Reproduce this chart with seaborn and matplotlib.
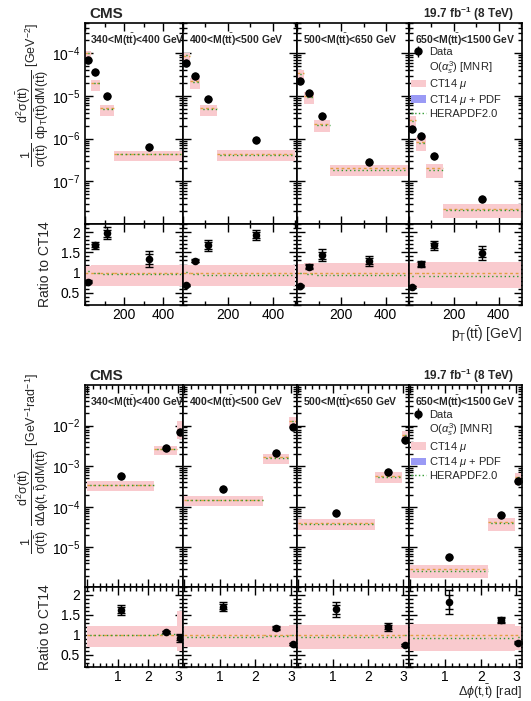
import numpy as np
import pandas as pd
import matplotlib
matplotlib.use("Agg")
import matplotlib.pyplot as plt
import seaborn as sns
from matplotlib.patches import Patch
from matplotlib.lines import Line2D
from matplotlib.ticker import MultipleLocator, LogLocator, NullFormatter, FixedLocator

# mass bins (one panel each)
mass_bins = [("340", "400"), ("400", "500"), ("500", "650"), ("650", "1500")]

# pT(tt) distribution
pt_edges = [0, 30, 75, 150, 500]
pt_data = [[7.0e-5, 3.7e-5, 1.0e-5, 6.4e-7],
           [6.0e-5, 2.9e-5, 8.7e-6, 9.1e-7],
           [2.2e-5, 1.15e-5, 3.4e-6, 2.8e-7],
           [1.7e-6, 1.15e-6, 3.9e-7, 3.9e-8]]
pt_ct14 = [[1.0e-4, 2.0e-5, 5.1e-6, 4.4e-7],
           [8.7e-5, 2.2e-5, 5.1e-6, 4.4e-7],
           [3.4e-5, 1.0e-5, 2.2e-6, 2.0e-7],
           [2.8e-6, 8.5e-7, 2.0e-7, 2.3e-8]]
pt_ratio = [[0.78, 1.67, 1.97, 1.33],
            [0.69, 1.29, 1.67, 1.93],
            [0.67, 1.15, 1.43, 1.28],
            [0.65, 1.21, 1.67, 1.48]]
pt_ratio_err = [[0.03, 0.08, 0.15, 0.20],
                [0.02, 0.04, 0.13, 0.13],
                [0.02, 0.06, 0.15, 0.12],
                [0.03, 0.08, 0.10, 0.17]]
pt_band_lo = [[0.72, 0.67, 0.67, 0.67],
              [0.70, 0.67, 0.67, 0.67],
              [0.66, 0.65, 0.65, 0.65],
              [0.62, 0.61, 0.61, 0.61]]
pt_band_hi = [[1.16, 1.19, 1.19, 1.19],
              [1.18, 1.20, 1.20, 1.20],
              [1.22, 1.23, 1.23, 1.23],
              [1.24, 1.27, 1.27, 1.27]]
pt_hera = [[1.04, 1.00, 0.97, 0.97],
           [1.02, 0.97, 0.95, 0.95],
           [0.98, 0.97, 0.94, 0.94],
           [0.92, 0.92, 0.92, 0.92]]

# delta phi distribution
dphi_edges = [0, 2.2, 2.95, 3.1416]
dphi_data = [[5.7e-4, 2.8e-3, 6.9e-3],
             [2.7e-4, 2.1e-3, 9.3e-3],
             [7.1e-5, 7.3e-4, 4.3e-3],
             [5.9e-6, 6.4e-5, 4.3e-4]]
dphi_ct14 = [[3.5e-4, 2.6e-3, 8.0e-3],
             [1.5e-4, 1.65e-3, 1.3e-2],
             [4.0e-5, 5.8e-4, 5.7e-3],
             [2.9e-6, 4.2e-5, 5.5e-4]]
dphi_ratio = [[1.63, 1.07, 0.93],
              [1.71, 1.18, 0.77],
              [1.64, 1.20, 0.75],
              [1.83, 1.37, 0.81]]
dphi_ratio_err = [[0.12, 0.03, 0.10],
                  [0.12, 0.05, 0.03],
                  [0.18, 0.10, 0.03],
                  [0.30, 0.08, 0.03]]
dphi_band_lo = [[0.71, 0.71, 0.60],
                [0.69, 0.69, 0.69],
                [0.66, 0.66, 0.66],
                [0.60, 0.60, 0.63]]
dphi_band_hi = [[1.22, 1.22, 1.60],
                [1.22, 1.22, 1.24],
                [1.24, 1.24, 1.26],
                [1.27, 1.27, 1.22]]
dphi_hera = [[1.00, 1.03, 1.00],
             [0.96, 0.98, 1.00],
             [0.95, 0.95, 1.00],
             [0.92, 0.93, 0.96]]

sns.set_style("ticks", {"xtick.direction": "in", "ytick.direction": "in"})
plt.rcParams["font.family"] = ["Liberation Sans", "DejaVu Sans"]
plt.rcParams["mathtext.fontset"] = "custom"
plt.rcParams["mathtext.rm"] = "Liberation Sans"
plt.rcParams["mathtext.it"] = "Liberation Sans:italic"
plt.rcParams["mathtext.bf"] = "Liberation Sans:bold"

PINK = "#f9cace"
BLUE = "#9a9af5"
GREEN = "#2e9a2e"
ORANGE = "#e0a040"

W, H = 531, 701
fig = plt.figure(figsize=(W / 100, H / 100), dpi=100)
xcuts = [85, 183, 297, 409, 522]


def frame(x0, x1, y0, y1):
    return [x0 / W, 1 - y1 / H, (x1 - x0) / W, (y1 - y0) / H]


def style(ax, first):
    ax.tick_params(which="both", direction="in", top=True, right=True,
                   labelsize=10, colors="k", width=1)
    ax.tick_params(which="major", length=6)
    ax.tick_params(which="minor", length=3)
    ax.tick_params(axis="x", pad=2)
    for s in ax.spines.values():
        s.set_linewidth(1.2)
        s.set_color("k")
    if not first:
        ax.tick_params(labelleft=False)


def draw_block(edges, data, ct14, ratio, rerr, blo, bhi, hera,
               ytop, ymid, ybot, ylim, yticks, xmajor, xminor, xlim, xticks_lab):
    edges = np.array(edges, dtype=float)
    centers = 0.5 * (edges[:-1] + edges[1:])
    mains, ratios = [], []
    eb = None
    for i in range(4):
        axm = fig.add_axes(frame(xcuts[i], xcuts[i + 1], ytop, ymid))
        axr = fig.add_axes(frame(xcuts[i], xcuts[i + 1], ymid, ybot))
        ct = np.array(ct14[i])
        lo = np.array(blo[i])
        hi = np.array(bhi[i])
        hr = np.array(hera[i])
        r = np.array(ratio[i])
        re = np.array(rerr[i])
        d = np.array(data[i])
        # uncertainty boxes
        for j in range(len(centers)):
            axm.fill_between([edges[j], edges[j + 1]], ct[j] * lo[j], ct[j] * hi[j],
                             color=PINK, lw=0, zorder=1)
            axr.fill_between([edges[j], edges[j + 1]], lo[j], hi[j],
                             color=PINK, lw=0, zorder=1)
        axm.hlines(ct, edges[:-1], edges[1:], color=ORANGE, lw=1, ls=(0, (2, 2)), zorder=2)
        axm.hlines(ct * hr, edges[:-1], edges[1:], color=GREEN, lw=1, ls=(1, (1, 2)), zorder=3)
        axr.hlines(np.ones_like(hr), edges[:-1], edges[1:], color=ORANGE, lw=1, ls=(0, (2, 2)), zorder=2)
        axr.hlines(hr, edges[:-1], edges[1:], color=GREEN, lw=1, ls=(1, (1, 2)), zorder=3)

        df = pd.DataFrame({"x": centers, "y": d, "r": r})
        eb = axm.errorbar(centers, d, yerr=d * re / r, fmt="o", color="k", ms=5, elinewidth=1,
                          capsize=0, zorder=4)
        sns.scatterplot(data=df, x="x", y="y", ax=axm, color="k", s=30, edgecolor="k",
                        linewidth=0, zorder=5, legend=False)
        axr.errorbar(centers, r, yerr=re, fmt="none", ecolor="k", elinewidth=1,
                     capsize=3, capthick=1, zorder=4)
        axr.errorbar(centers, r, yerr=0.6 * re, fmt="none", ecolor="k", elinewidth=1,
                     capsize=3, capthick=1, zorder=4)
        sns.scatterplot(data=df, x="x", y="r", ax=axr, color="k", s=30, edgecolor="k",
                        linewidth=0, zorder=5, legend=False)

        axm.set_yscale("log")
        axm.set_ylim(*ylim)
        axm.yaxis.set_major_locator(FixedLocator(yticks))
        axm.yaxis.set_minor_locator(LogLocator(base=10, subs=np.arange(2, 10), numticks=20))
        axm.yaxis.set_minor_formatter(NullFormatter())
        for ax in (axm, axr):
            ax.set_xlim(*xlim[i])
            ax.xaxis.set_major_locator(MultipleLocator(xmajor))
            ax.xaxis.set_minor_locator(MultipleLocator(xminor))
            ax.set_xlabel("")
            ax.set_ylabel("")
        axm.tick_params(labelbottom=False)
        axr.set_ylim(0.2, 2.2)
        axr.yaxis.set_major_locator(FixedLocator([0.5, 1, 1.5, 2]))
        axr.yaxis.set_minor_locator(MultipleLocator(0.1))
        axr.set_yticklabels(["0.5", "1", "1.5", "2"])
        axr.set_xticks(xticks_lab)
        axr.set_xticklabels([str(t) for t in xticks_lab])
        style(axm, i == 0)
        style(axr, i == 0)
        axm.text(0.05, 0.955, f"{mass_bins[i][0]}<M(t$\\bar{{\\mathbf{{t}}}}$)<{mass_bins[i][1]} GeV",
                 transform=axm.transAxes, fontsize=7.5, fontweight="bold", va="top", ha="left")
        mains.append(axm)
        ratios.append(axr)

    ax4 = mains[3]
    handles = [eb,
               Line2D([], [], ls="none"),
               Patch(color=PINK, lw=0),
               Patch(color=BLUE, lw=0),
               Line2D([], [], color=GREEN, ls=":", lw=1)]
    labels = ["Data", r"O($\alpha_{s}^{3}$) [MNR]", r"CT14 $\mu$", r"CT14 $\mu$ + PDF", "HERAPDF2.0"]
    ax4.legend(handles, labels, loc="upper left", bbox_to_anchor=(-0.02, 0.9),
               frameon=False, fontsize=8, handlelength=1.3, handletextpad=0.3,
               labelspacing=0.15, borderaxespad=0)
    fig.text(89 / W, 1 - (ytop - 9) / H, "CMS", fontsize=11, fontweight="bold", ha="left", va="center")
    fig.text(514 / W, 1 - (ytop - 9) / H, r"19.7 fb$^{\mathbf{-1}}$ (8 TeV)", fontsize=8.5,
             fontweight="bold", ha="right", va="center")
    fig.text(45 / W, 1 - (ymid + ybot) / 2 / H, "Ratio to CT14", rotation=90,
             fontsize=10, ha="center", va="center")
    return mains, ratios


pt_xlim = [(0, 500), (0, 507), (0, 505), (0, 505)]
draw_block(pt_edges, pt_data, pt_ct14, pt_ratio, pt_ratio_err, pt_band_lo, pt_band_hi, pt_hera,
           22.7, 224, 305, (1.0e-8, 5.2e-4), [1e-7, 1e-6, 1e-5, 1e-4],
           200, 100, pt_xlim, [200, 400])
fig.text(33 / W, 1 - 95 / H,
         r"$\dfrac{\mathrm{1}}{\mathrm{\sigma(t\bar{t})}}\ \dfrac{\mathrm{d^{2}\sigma(t\bar{t})}}{\mathrm{dp_{T}(t\bar{t})dM(t\bar{t})}}$ [GeV$^{-2}$]",
         rotation=90, fontsize=9, ha="center", va="center")
fig.text(522 / W, 1 - 334 / H, r"p$_{\mathrm{T}}$(t$\bar{\mathrm{t}}$) [GeV]",
         fontsize=10, ha="right", va="center")

dphi_xlim = [(-0.08, 3.15), (-0.02, 3.16), (-0.02, 3.16), (-0.02, 3.16)]
draw_block(dphi_edges, dphi_data, dphi_ct14, dphi_ratio, dphi_ratio_err, dphi_band_lo, dphi_band_hi,
           dphi_hera, 385, 587, 667, (1.05e-6, 1.0e-1), [1e-5, 1e-4, 1e-3, 1e-2],
           1, 0.2, dphi_xlim, [1, 2, 3])
fig.text(33 / W, 1 - 464 / H,
         r"$\dfrac{\mathrm{1}}{\mathrm{\sigma(t\bar{t})}}\ \dfrac{\mathrm{d^{2}\sigma(t\bar{t})}}{\mathrm{d\Delta\phi(t,\bar{t})dM(t\bar{t})}}$ [GeV$^{-1}$rad$^{-1}$]",
         rotation=90, fontsize=9, ha="center", va="center")
fig.text(522 / W, 1 - 692 / H, r"$\Delta\phi$(t,$\bar{\mathrm{t}}$) [rad]",
         fontsize=9, ha="right", va="center")

fig.savefig("out.png", dpi=100)
